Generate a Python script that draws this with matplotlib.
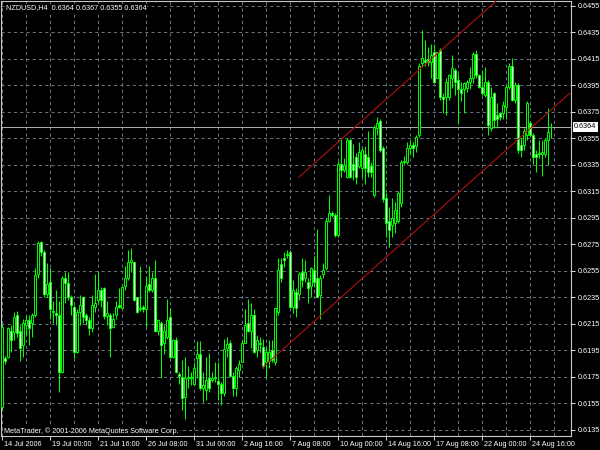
import matplotlib
matplotlib.use("Agg")
import matplotlib.pyplot as plt
from matplotlib.transforms import ScaledTranslation
import numpy as np

symbol = "NZDUSD,H4"

opens = [
    0.6152, 0.6189, 0.6190, 0.6210, 0.6209, 0.6222, 0.6210, 0.6199, 0.6214, 0.6218,
    0.6216, 0.6222, 0.6253, 0.6277, 0.6269, 0.6238, 0.6247, 0.6225, 0.6223, 0.6222,
    0.6179, 0.6250, 0.6246, 0.6235, 0.6228, 0.6194, 0.6224, 0.6235, 0.6222, 0.6218,
    0.6212, 0.6228, 0.6233, 0.6241, 0.6242, 0.6221, 0.6222, 0.6213, 0.6222, 0.6229,
    0.6227, 0.6244, 0.6250, 0.6262, 0.6262, 0.6235, 0.6226, 0.6228, 0.6226, 0.6245,
    0.6241, 0.6250, 0.6210, 0.6216, 0.6201, 0.6205, 0.6220, 0.6190, 0.6203, 0.6177,
    0.6175, 0.6160, 0.6174, 0.6175, 0.6170, 0.6189, 0.6192, 0.6167, 0.6165, 0.6174,
    0.6173, 0.6175, 0.6172, 0.6170, 0.6163, 0.6197, 0.6201, 0.6176, 0.6167, 0.6180,
    0.6186, 0.6201, 0.6216, 0.6210, 0.6222, 0.6195, 0.6201, 0.6198, 0.6186, 0.6187,
    0.6195, 0.6186, 0.6224, 0.6260, 0.6265, 0.6268, 0.6269, 0.6228, 0.6239, 0.6238,
    0.6254, 0.6250, 0.6247, 0.6244, 0.6256, 0.6250, 0.6237, 0.6253, 0.6257, 0.6293,
    0.6299, 0.6297, 0.6282, 0.6336, 0.6331, 0.6326, 0.6354, 0.6336, 0.6341, 0.6334,
    0.6333, 0.6343, 0.6341, 0.6334, 0.6312, 0.6363, 0.6368, 0.6348, 0.6310, 0.6293,
    0.6290, 0.6291, 0.6293, 0.6306, 0.6337, 0.6337, 0.6348, 0.6350, 0.6349, 0.6358,
    0.6412, 0.6414, 0.6415, 0.6413, 0.6420, 0.6401, 0.6422, 0.6386, 0.6386, 0.6386,
    0.6401, 0.6407, 0.6399, 0.6392, 0.6392, 0.6393, 0.6398, 0.6401, 0.6419, 0.6403,
    0.6394, 0.6388, 0.6398, 0.6363, 0.6389, 0.6373, 0.6374, 0.6374, 0.6379, 0.6394,
    0.6410, 0.6384, 0.6395, 0.6350, 0.6350, 0.6358, 0.6367, 0.6358, 0.6343, 0.6344,
    0.6343, 0.6343, 0.6354, 0.6364,
]

highs = [
    0.6215, 0.6191, 0.6213, 0.6214, 0.6224, 0.6225, 0.6214, 0.6219, 0.6222, 0.6222,
    0.6223, 0.6257, 0.6278, 0.6278, 0.6271, 0.6261, 0.6257, 0.6232, 0.6241, 0.6232,
    0.6251, 0.6254, 0.6254, 0.6237, 0.6229, 0.6226, 0.6237, 0.6236, 0.6223, 0.6220,
    0.6237, 0.6253, 0.6254, 0.6243, 0.6243, 0.6232, 0.6223, 0.6223, 0.6232, 0.6242,
    0.6244, 0.6259, 0.6271, 0.6272, 0.6262, 0.6235, 0.6259, 0.6229, 0.6251, 0.6259,
    0.6254, 0.6263, 0.6219, 0.6217, 0.6214, 0.6234, 0.6227, 0.6204, 0.6205, 0.6179,
    0.6188, 0.6190, 0.6183, 0.6179, 0.6186, 0.6202, 0.6202, 0.6179, 0.6190, 0.6193,
    0.6179, 0.6186, 0.6186, 0.6171, 0.6204, 0.6205, 0.6203, 0.6179, 0.6183, 0.6188,
    0.6203, 0.6226, 0.6234, 0.6231, 0.6226, 0.6207, 0.6205, 0.6204, 0.6197, 0.6203,
    0.6203, 0.6227, 0.6265, 0.6265, 0.6269, 0.6271, 0.6271, 0.6248, 0.6242, 0.6254,
    0.6265, 0.6263, 0.6250, 0.6258, 0.6266, 0.6287, 0.6252, 0.6261, 0.6295, 0.6312,
    0.6300, 0.6299, 0.6338, 0.6355, 0.6340, 0.6355, 0.6355, 0.6351, 0.6344, 0.6352,
    0.6348, 0.6349, 0.6361, 0.6337, 0.6365, 0.6371, 0.6370, 0.6349, 0.6314, 0.6303,
    0.6310, 0.6307, 0.6315, 0.6339, 0.6342, 0.6352, 0.6354, 0.6352, 0.6358, 0.6412,
    0.6437, 0.6429, 0.6424, 0.6426, 0.6426, 0.6420, 0.6423, 0.6389, 0.6401, 0.6404,
    0.6418, 0.6408, 0.6404, 0.6398, 0.6398, 0.6399, 0.6409, 0.6420, 0.6422, 0.6404,
    0.6407, 0.6409, 0.6399, 0.6394, 0.6390, 0.6382, 0.6375, 0.6383, 0.6395, 0.6412,
    0.6416, 0.6398, 0.6397, 0.6355, 0.6363, 0.6383, 0.6368, 0.6359, 0.6346, 0.6354,
    0.6354, 0.6355, 0.6378, 0.6367,
]

lows = [
    0.6150, 0.6185, 0.6189, 0.6194, 0.6203, 0.6205, 0.6187, 0.6190, 0.6207, 0.6199,
    0.6205, 0.6220, 0.6250, 0.6266, 0.6235, 0.6235, 0.6219, 0.6216, 0.6214, 0.6164,
    0.6178, 0.6231, 0.6233, 0.6222, 0.6189, 0.6193, 0.6214, 0.6216, 0.6214, 0.6207,
    0.6209, 0.6224, 0.6231, 0.6228, 0.6219, 0.6214, 0.6190, 0.6212, 0.6219, 0.6227,
    0.6226, 0.6241, 0.6248, 0.6254, 0.6232, 0.6223, 0.6225, 0.6224, 0.6213, 0.6239,
    0.6239, 0.6209, 0.6207, 0.6174, 0.6192, 0.6204, 0.6189, 0.6189, 0.6178, 0.6170,
    0.6150, 0.6143, 0.6167, 0.6169, 0.6169, 0.6174, 0.6165, 0.6156, 0.6158, 0.6164,
    0.6171, 0.6171, 0.6158, 0.6154, 0.6161, 0.6190, 0.6175, 0.6161, 0.6161, 0.6175,
    0.6186, 0.6201, 0.6209, 0.6197, 0.6193, 0.6190, 0.6194, 0.6182, 0.6174, 0.6182,
    0.6186, 0.6184, 0.6222, 0.6247, 0.6258, 0.6265, 0.6227, 0.6223, 0.6220, 0.6233,
    0.6243, 0.6247, 0.6231, 0.6235, 0.6243, 0.6235, 0.6219, 0.6250, 0.6256, 0.6292,
    0.6296, 0.6281, 0.6281, 0.6326, 0.6330, 0.6325, 0.6325, 0.6324, 0.6321, 0.6333,
    0.6326, 0.6321, 0.6326, 0.6326, 0.6311, 0.6358, 0.6345, 0.6307, 0.6281, 0.6273,
    0.6281, 0.6284, 0.6291, 0.6303, 0.6336, 0.6336, 0.6343, 0.6341, 0.6345, 0.6356,
    0.6409, 0.6410, 0.6410, 0.6401, 0.6397, 0.6401, 0.6384, 0.6374, 0.6373, 0.6384,
    0.6393, 0.6388, 0.6366, 0.6383, 0.6374, 0.6390, 0.6392, 0.6397, 0.6401, 0.6393,
    0.6388, 0.6386, 0.6358, 0.6361, 0.6363, 0.6363, 0.6369, 0.6370, 0.6370, 0.6392,
    0.6383, 0.6382, 0.6344, 0.6341, 0.6346, 0.6354, 0.6356, 0.6336, 0.6330, 0.6340,
    0.6327, 0.6341, 0.6335, 0.6355,
]

closes = [
    0.6213, 0.6187, 0.6212, 0.6203, 0.6220, 0.6208, 0.6197, 0.6216, 0.6218, 0.6212,
    0.6222, 0.6252, 0.6276, 0.6269, 0.6238, 0.6245, 0.6226, 0.6224, 0.6222, 0.6179,
    0.6250, 0.6246, 0.6235, 0.6229, 0.6194, 0.6224, 0.6229, 0.6220, 0.6218, 0.6212,
    0.6229, 0.6231, 0.6241, 0.6233, 0.6221, 0.6223, 0.6212, 0.6219, 0.6228, 0.6228,
    0.6243, 0.6250, 0.6262, 0.6263, 0.6233, 0.6224, 0.6227, 0.6226, 0.6244, 0.6241,
    0.6250, 0.6210, 0.6218, 0.6199, 0.6210, 0.6218, 0.6190, 0.6203, 0.6179, 0.6176,
    0.6159, 0.6174, 0.6175, 0.6174, 0.6182, 0.6192, 0.6167, 0.6169, 0.6173, 0.6167,
    0.6174, 0.6174, 0.6170, 0.6163, 0.6196, 0.6200, 0.6176, 0.6167, 0.6182, 0.6185,
    0.6201, 0.6214, 0.6210, 0.6222, 0.6194, 0.6203, 0.6200, 0.6183, 0.6194, 0.6194,
    0.6188, 0.6227, 0.6256, 0.6250, 0.6263, 0.6267, 0.6228, 0.6241, 0.6227, 0.6253,
    0.6248, 0.6254, 0.6242, 0.6257, 0.6247, 0.6235, 0.6250, 0.6256, 0.6293, 0.6299,
    0.6297, 0.6282, 0.6336, 0.6331, 0.6335, 0.6354, 0.6326, 0.6331, 0.6326, 0.6345,
    0.6346, 0.6333, 0.6330, 0.6330, 0.6364, 0.6367, 0.6346, 0.6309, 0.6291, 0.6286,
    0.6295, 0.6301, 0.6314, 0.6337, 0.6338, 0.6348, 0.6350, 0.6348, 0.6356, 0.6410,
    0.6416, 0.6413, 0.6413, 0.6418, 0.6398, 0.6420, 0.6386, 0.6385, 0.6398, 0.6403,
    0.6408, 0.6398, 0.6392, 0.6389, 0.6397, 0.6398, 0.6401, 0.6419, 0.6403, 0.6394,
    0.6389, 0.6398, 0.6365, 0.6386, 0.6369, 0.6370, 0.6371, 0.6380, 0.6394, 0.6410,
    0.6384, 0.6395, 0.6346, 0.6346, 0.6361, 0.6382, 0.6358, 0.6341, 0.6341, 0.6343,
    0.6345, 0.6354, 0.6360, 0.6364,
]

time_labels = ["14 Jul 2006", "19 Jul 00:00", "21 Jul 16:00", "26 Jul 08:00",
               "31 Jul 00:00", "2 Aug 16:00", "7 Aug 08:00", "10 Aug 00:00",
               "14 Aug 16:00", "17 Aug 08:00", "22 Aug 00:00", "24 Aug 16:00"]
price_ticks = [0.6135, 0.6155, 0.6175, 0.6195, 0.6215, 0.6235, 0.6255, 0.6275,
               0.6295, 0.6315, 0.6335, 0.6355, 0.6375, 0.6395, 0.6415, 0.6435, 0.6455]

channel_lower_bars = [87, 189.33]
channel_lower_prices = [0.61825, 0.63893]
channel_upper_bars = [99, 189.33]
channel_upper_prices = [0.63259, 0.65085]

copyright_text = "MetaTrader, \u00a9 2001-2006 MetaQuotes Software Corp."

plt.rcParams['font.family'] = ['Liberation Sans', 'DejaVu Sans']
FS = 5.2
LIME = '#00ff00'
GRID = '#66727f'

W, H = 600, 450
fig = plt.figure(figsize=(6, 4.5), dpi=100, facecolor='black')
ax = fig.add_axes([1 / W, 14 / H, 570 / W, 435 / H], facecolor='black')

n = len(closes)
x = np.arange(n)
o = np.array(opens)
c = np.array(closes)
h = np.array(highs)
l = np.array(lows)

ax.set_xlim(-1 / 3, 189 + 2 / 3)
ax.set_ylim(0.613047, 0.645877)

# grid
for p in price_ticks:
    ax.axhline(p, color=GRID, lw=0.75, ls=(0, (3, 3)), zorder=1)
for b in range(0, 190, 8):
    ax.axvline(b, color=GRID, lw=0.75, ls=(0, (3, 3)), zorder=1)

# bid line
ax.axhline(closes[-1], color='#a8a8a8', lw=0.75, zorder=2)

# candles
lo = np.minimum(l, np.minimum(o, c))
hi = np.maximum(h, np.maximum(o, c))
ax.vlines(x, lo, hi, color=LIME, lw=0.75, zorder=3)
up = c >= o
bb = np.minimum(o, c)
bh = np.abs(c - o)
ax.bar(x[up], bh[up], bottom=bb[up], width=0.62, facecolor='black',
       edgecolor=LIME, linewidth=0.7, zorder=4)
ax.bar(x[~up], bh[~up], bottom=bb[~up], width=0.62, facecolor='white',
       edgecolor=LIME, linewidth=0.7, zorder=4)

# channel
ax.plot(channel_lower_bars, channel_lower_prices, color='#b01010', lw=0.8, zorder=5)
ax.plot(channel_upper_bars, channel_upper_prices, color='#b01010', lw=0.8, zorder=5)

# spines
for s in ax.spines.values():
    s.set_color('#c8c8c8')
    s.set_linewidth(0.8)

# y axis
ax.yaxis.tick_right()
ax.set_yticks(price_ticks)
ax.set_yticklabels([f"{p:.4f}" for p in price_ticks])
ax.tick_params(axis='y', colors='white', length=3, width=0.6, labelsize=FS, pad=1.5)

# x axis
ax.set_xticks(list(range(0, 16 * len(time_labels), 16)))
ax.set_xticklabels(time_labels)
ax.tick_params(axis='x', colors='white', length=3, width=0.6, labelsize=FS, pad=0.5)
off = ScaledTranslation(2 / 100, 0, fig.dpi_scale_trans)
for lbl in ax.get_xticklabels():
    lbl.set_ha('left')
    lbl.set_transform(lbl.get_transform() + off)

# current price box
ax.text(1.0 + 3 / 570, closes[-1], f"{closes[-1]:.4f}", transform=ax.get_yaxis_transform(),
        ha='left', va='center', fontsize=FS, color='black', zorder=10, clip_on=False,
        bbox=dict(boxstyle='square,pad=0.2', facecolor='white', edgecolor='none'))

# header
header = f"{symbol}  {opens[-1]:.4f} {highs[-1]:.4f} {lows[-1]:.4f} {closes[-1]:.4f}"
fig.text(6 / W, 1 - 8 / H, header, ha='left', va='center', fontsize=FS, color='white',
         bbox=dict(boxstyle='square,pad=0.1', facecolor='black', edgecolor='none'), zorder=10)
fig.text(4 / W, 1 - 431 / H, copyright_text, ha='left', va='center', fontsize=FS, color='white',
         bbox=dict(boxstyle='square,pad=0.1', facecolor='black', edgecolor='none'), zorder=10)

fig.savefig('out.png', dpi=100, facecolor='black')
